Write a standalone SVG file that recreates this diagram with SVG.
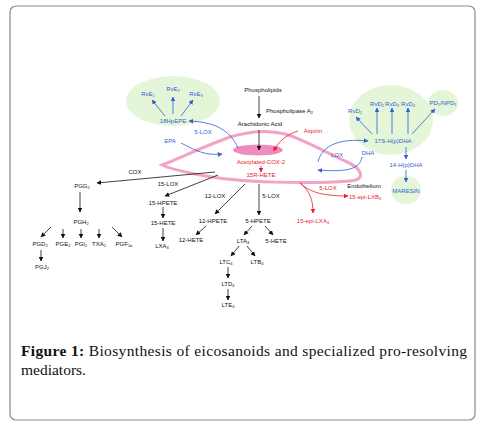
<svg xmlns="http://www.w3.org/2000/svg" width="483" height="427" viewBox="0 0 483 427">
<defs>
<marker id="ak" viewBox="0 0 10 10" refX="9" refY="5" markerWidth="6" markerHeight="6" orient="auto"><path d="M0,0 L10,5 L0,10 z" fill="#111"/></marker>
<marker id="ab" viewBox="0 0 10 10" refX="9" refY="5" markerWidth="6" markerHeight="6" orient="auto"><path d="M0,0 L10,5 L0,10 z" fill="#2f5fd6"/></marker>
<marker id="ar" viewBox="0 0 10 10" refX="9" refY="5" markerWidth="6" markerHeight="6" orient="auto"><path d="M0,0 L10,5 L0,10 z" fill="#e8202a"/></marker>
</defs>
<style>
text{font-family:"Liberation Sans","Open Sans",sans-serif;font-size:6px;fill:#111;text-anchor:middle}
.b{fill:#2f5fd6}
.r{fill:#e8202a}
.s{font-size:4px}
.k{stroke:#111;stroke-width:0.8;fill:none;marker-end:url(#ak)}
.bl{stroke:#2f5fd6;stroke-width:0.8;fill:none;marker-end:url(#ab)}
.rl{stroke:#e8202a;stroke-width:0.8;fill:none;marker-end:url(#ar)}
.g{fill:#e4f5d8}
.cap{font-family:"Liberation Serif",serif;font-size:15.5px;text-anchor:start}
</style>
<rect x="10" y="6" width="465" height="414" rx="6" fill="#fff" stroke="#8a8a8a" stroke-width="1.2"/>

<g id="membrane">
<path d="M162,165 C180,158 205,146 230,137 C250,131 270,130 285,134 C305,140 325,152 345,161 C362,168 367,180 350,181 C310,184 240,183 200,175 C180,171 168,168 162,165 Z" fill="none" stroke="#f3a3c6" stroke-width="3"/>
<ellipse cx="258" cy="150" rx="25" ry="5.5" fill="#f08cba"/>
</g>

<g id="green-left"><ellipse class="g" cx="173" cy="101" rx="47" ry="25"/></g>
<g id="green-right"><ellipse class="g" cx="391" cy="120" rx="42" ry="35"/></g>
<g id="green-pd1"><ellipse class="g" cx="443" cy="103" rx="15" ry="13"/></g>
<g id="green-maresin"><ellipse class="g" cx="406" cy="190" rx="15" ry="14"/></g>

<g id="connectors">
<line class="k" x1="259" y1="96" x2="259" y2="118"/>
<line class="k" x1="259" y1="130" x2="259" y2="150"/>
<path class="rl" d="M298,131 C288,134 278,141 274,151"/>
<line class="rl" x1="261" y1="166" x2="261" y2="172"/>
<path class="bl" d="M181,143 C195,150 205,156 222,154"/>
<path class="bl" d="M238,148 C230,130 215,122 189,121"/>
<line class="bl" x1="165" y1="116" x2="152" y2="100"/>
<line class="bl" x1="173" y1="114" x2="173" y2="97"/>
<line class="bl" x1="181" y1="116" x2="193" y2="100"/>
<path class="bl" d="M318,162 C322,145 340,138 368,141"/>
<path class="bl" d="M362,157 C360,170 345,172 318,170"/>
<line class="bl" x1="372" y1="134" x2="356" y2="117"/>
<line class="bl" x1="377" y1="134" x2="377" y2="108"/>
<line class="bl" x1="392" y1="134" x2="392" y2="108"/>
<line class="bl" x1="408" y1="134" x2="408" y2="108"/>
<line class="bl" x1="412" y1="134" x2="435" y2="109"/>
<line class="bl" x1="406" y1="147" x2="406" y2="159"/>
<line class="bl" x1="406" y1="170" x2="406" y2="182"/>
<path class="rl" d="M300,183 C310,193 325,196 348,196"/>
<path class="rl" d="M300,183 C310,191 313,200 313,213"/>
<line class="k" x1="215" y1="172" x2="97" y2="183"/>
<line class="k" x1="218" y1="175" x2="165" y2="196"/>
<line class="k" x1="245" y1="184" x2="215" y2="214"/>
<line class="k" x1="259" y1="184" x2="259" y2="215"/>
<line class="k" x1="80" y1="192" x2="80" y2="212"/>
<line class="k" x1="51" y1="227" x2="41" y2="237"/>
<line class="k" x1="63" y1="229" x2="63" y2="238"/>
<line class="k" x1="81" y1="229" x2="81" y2="238"/>
<line class="k" x1="99" y1="229" x2="99" y2="238"/>
<line class="k" x1="112" y1="227" x2="122" y2="237"/>
<line class="k" x1="41" y1="250" x2="41" y2="261"/>
<line class="k" x1="163" y1="207" x2="163" y2="218"/>
<line class="k" x1="163" y1="228" x2="163" y2="241"/>
<line class="k" x1="206" y1="226" x2="196" y2="235"/>
<line class="k" x1="252" y1="226" x2="244" y2="235"/>
<line class="k" x1="265" y1="226" x2="273" y2="235"/>
<line class="k" x1="239" y1="246" x2="231" y2="256"/>
<line class="k" x1="247" y1="246" x2="255" y2="256"/>
<line class="k" x1="228" y1="267" x2="228" y2="278"/>
<line class="k" x1="228" y1="289" x2="228" y2="300"/>
</g>

<g id="labels-top">
<text x="263" y="92">Phospholipids</text>
<text x="266" y="113" style="text-anchor:start">Phospholipase A<tspan class="s" dy="1">2</tspan></text>
<text x="260" y="126">Arachidonic Acid</text>
<text class="r" x="313" y="133">Aspirin</text>
<text class="r" x="261" y="164">Acetylated-COX-2</text>
<text class="r" x="261" y="177">15R-HETE</text>
</g>
<g id="n-rve1"><text class="b" x="148" y="96">RvE<tspan class="s" dy="1">1</tspan></text></g>
<g id="n-rve2"><text class="b" x="173" y="91">RvE<tspan class="s" dy="1">2</tspan></text></g>
<g id="n-rve3"><text class="b" x="196" y="96">RvE<tspan class="s" dy="1">3</tspan></text></g>
<g id="n-18hpepe"><text class="b" x="173" y="123">18HpEPE</text></g>
<g id="l-5lox-b"><text class="b" x="203" y="134">5-LOX</text></g>
<g id="n-epa"><text class="b" x="170" y="143">EPA</text></g>
<g id="l-lox"><text class="b" x="337" y="157">LOX</text></g>
<g id="n-dha"><text class="b" x="368" y="155">DHA</text></g>
<g id="n-17s"><text class="b" x="393" y="143">17S-H(p)DHA</text></g>
<g id="n-rvd1"><text class="b" x="355" y="113">RvD<tspan class="s" dy="1">1</tspan></text></g>
<g id="n-rvd2"><text class="b" x="377" y="106">RvD<tspan class="s" dy="1">2</tspan></text></g>
<g id="n-rvd3"><text class="b" x="392" y="106">RvD<tspan class="s" dy="1">3</tspan></text></g>
<g id="n-rvd4"><text class="b" x="408" y="106">RvD<tspan class="s" dy="1">4</tspan></text></g>
<g id="n-pd1"><text class="b" x="443" y="105">PD<tspan class="s" dy="1">1</tspan><tspan dy="-1">/NPD</tspan><tspan class="s" dy="1">1</tspan></text></g>
<g id="n-14h"><text class="b" x="406" y="167">14-H(p)DHA</text></g>
<g id="n-maresin"><text class="b" x="406" y="193">MARESIN</text></g>
<g id="n-endo"><text x="364" y="188">Endothelium</text></g>
<g id="l-5lox-r"><text class="r" x="328" y="190">5-LOX</text></g>
<g id="n-lxb4"><text class="r" x="349" y="199" style="text-anchor:start">15-epi-LXB<tspan class="s" dy="1">4</tspan></text></g>
<g id="n-lxa4e"><text class="r" x="313" y="223">15-epi-LXA<tspan class="s" dy="1">4</tspan></text></g>

<g id="l-cox"><text x="135" y="174">COX</text></g>
<g id="n-pgg2"><text x="82" y="188">PGG<tspan class="s" dy="1">2</tspan></text></g>
<g id="n-pgh2"><text x="81" y="224">PGH<tspan class="s" dy="1">2</tspan></text></g>
<g id="n-pgd2"><text x="40" y="246">PGD<tspan class="s" dy="1">2</tspan></text></g>
<g id="n-pge2"><text x="63" y="246">PGE<tspan class="s" dy="1">2</tspan></text></g>
<g id="n-pgi2"><text x="81" y="246">PGI<tspan class="s" dy="1">2</tspan></text></g>
<g id="n-txa2"><text x="99" y="246">TXA<tspan class="s" dy="1">2</tspan></text></g>
<g id="n-pgf2a"><text x="124" y="246">PGF<tspan class="s" dy="1">2α</tspan></text></g>
<g id="n-pgj2"><text x="42" y="269">PGJ<tspan class="s" dy="1">2</tspan></text></g>

<g id="l-15lox"><text x="168" y="186">15-LOX</text></g>
<g id="n-15hpete"><text x="163" y="205">15-HPETE</text></g>
<g id="n-15hete"><text x="163" y="225">15-HETE</text></g>
<g id="n-lxa4"><text x="162" y="248">LXA<tspan class="s" dy="1">4</tspan></text></g>

<g id="l-12lox"><text x="215" y="198">12-LOX</text></g>
<g id="n-12hpete"><text x="213" y="223">12-HPETE</text></g>
<g id="n-12hete"><text x="191" y="242">12-HETE</text></g>

<g id="l-5lox"><text x="271" y="198">5-LOX</text></g>
<g id="n-5hpete"><text x="258" y="223">5-HPETE</text></g>
<g id="n-lta4"><text x="243" y="243">LTA<tspan class="s" dy="1">4</tspan></text></g>
<g id="n-5hete"><text x="276" y="243">5-HETE</text></g>
<g id="n-ltc4"><text x="226" y="264">LTC<tspan class="s" dy="1">4</tspan></text></g>
<g id="n-ltb4"><text x="257" y="264">LTB<tspan class="s" dy="1">4</tspan></text></g>
<g id="n-ltd4"><text x="228" y="286">LTD<tspan class="s" dy="1">4</tspan></text></g>
<g id="n-lte4"><text x="228" y="307">LTE<tspan class="s" dy="1">4</tspan></text></g>

<g id="caption">
<text class="cap" x="21" y="356" textLength="446" lengthAdjust="spacing"><tspan font-weight="bold">Figure 1:</tspan> Biosynthesis of eicosanoids and specialized pro-resolving</text>
<text class="cap" x="21" y="375">mediators.</text>
</g>
</svg>
